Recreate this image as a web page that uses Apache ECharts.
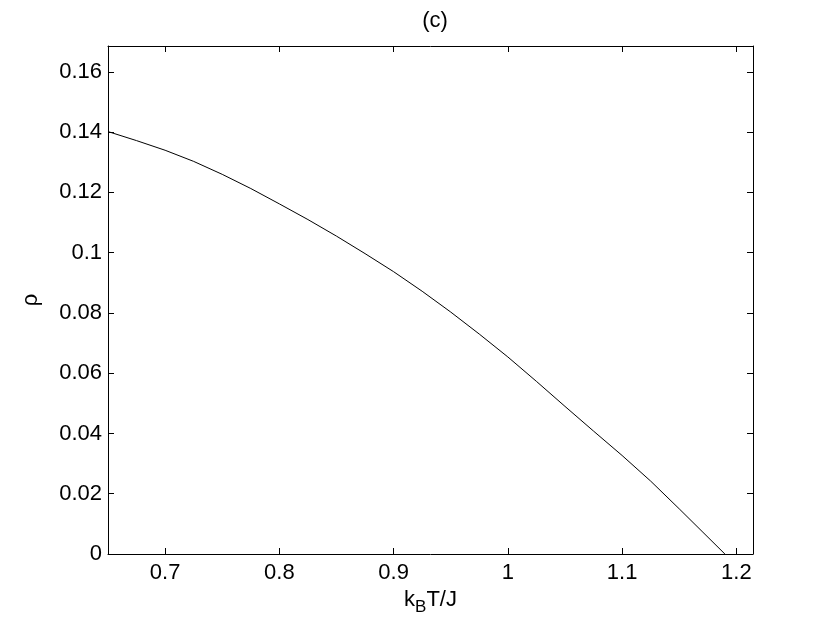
<!DOCTYPE html>
<html>
<head>
<meta charset="utf-8">
<script src="https://cdn.jsdelivr.net/npm/echarts@6/dist/echarts.min.js"></script>
<style>
  html, body { margin: 0; padding: 0; background: #fff; }
  #chart { width: 830px; height: 624px; }
</style>
</head>
<body>
<div id="chart"></div>
<script>
// temperature k_B T / J
var tValues = [0.65, 0.675, 0.70, 0.725, 0.75, 0.775, 0.80, 0.825, 0.85, 0.875,
               0.90, 0.925, 0.95, 0.975, 1.00, 1.025, 1.05, 1.075, 1.10, 1.125,
               1.15, 1.17, 1.19];
// rho
var rhoValues = [0.1402, 0.1372, 0.1340, 0.1303, 0.1260, 0.1213, 0.1162, 0.1110, 0.1055, 0.0997,
                 0.0937, 0.0872, 0.0803, 0.0730, 0.0654, 0.0573, 0.0490, 0.0408, 0.0327, 0.0242,
                 0.0150, 0.0075, 0.0];
var xTicks = [0.7, 0.8, 0.9, 1.0, 1.1, 1.2];
var yTicks = [0, 0.02, 0.04, 0.06, 0.08, 0.1, 0.12, 0.14, 0.16];

var font = 'Liberation Sans, Arial, Helvetica, sans-serif';
var lineData = tValues.map(function (t, i) { return [t, rhoValues[i]]; });

var chart = echarts.init(document.getElementById('chart'));

function xAxisCfg(pos, labels) {
  return {
    type: 'value', position: pos,
    min: 0.65, max: 1.2146,
    axisLine: { show: true, onZero: false, lineStyle: { color: '#000', width: 1 } },
    axisTick: { show: true, inside: true, length: 6, customValues: xTicks, lineStyle: { color: '#000' } },
    axisLabel: { show: labels, customValues: xTicks, margin: 8, color: '#000', fontSize: 22, fontFamily: font,
      formatter: function (v) { return String(+v.toFixed(2)); } },
    splitLine: { show: false }
  };
}
function yAxisCfg(pos, labels) {
  return {
    type: 'value', position: pos,
    min: 0, max: 0.1686,
    axisLine: { show: true, onZero: false, lineStyle: { color: '#000', width: 1 } },
    axisTick: { show: true, inside: true, length: 6, customValues: yTicks, lineStyle: { color: '#000' } },
    axisLabel: { show: labels, customValues: yTicks, margin: 6, color: '#000', fontSize: 22, fontFamily: font,
      formatter: function (v) { return String(+v.toFixed(2)); } },
    splitLine: { show: false }
  };
}

var xb = xAxisCfg('bottom', true);
xb.name = '{k|k}{b|B}{k|T/J}';
xb.nameLocation = 'middle';
xb.nameGap = 17;
xb.nameTextStyle = {
  color: '#000', fontFamily: font,
  rich: {
    k: { fontSize: 22, fontFamily: font, color: '#000' },
    b: { fontSize: 17, fontFamily: font, color: '#000', padding: [14, 0, 0, 0] }
  }
};
var yl = yAxisCfg('left', true);
yl.name = 'ρ';
yl.nameLocation = 'middle';
yl.nameGap = 66;
yl.nameTextStyle = { color: '#000', fontSize: 22, fontFamily: font };

chart.setOption({
  animation: false,
  backgroundColor: '#fff',
  title: {
    text: '(c)', left: 430, top: 5, textAlign: 'center',
    textStyle: { color: '#000', fontSize: 22, fontWeight: 'normal', fontFamily: font }
  },
  grid: { left: 108, right: 77, top: 46, bottom: 70, containLabel: false },
  xAxis: [xb, xAxisCfg('top', false)],
  yAxis: [yl, yAxisCfg('right', false)],
  series: [{
    type: 'line',
    data: lineData,
    smooth: false,
    showSymbol: false,
    lineStyle: { color: '#000', width: 1 }
  }]
});
</script>
</body>
</html>
